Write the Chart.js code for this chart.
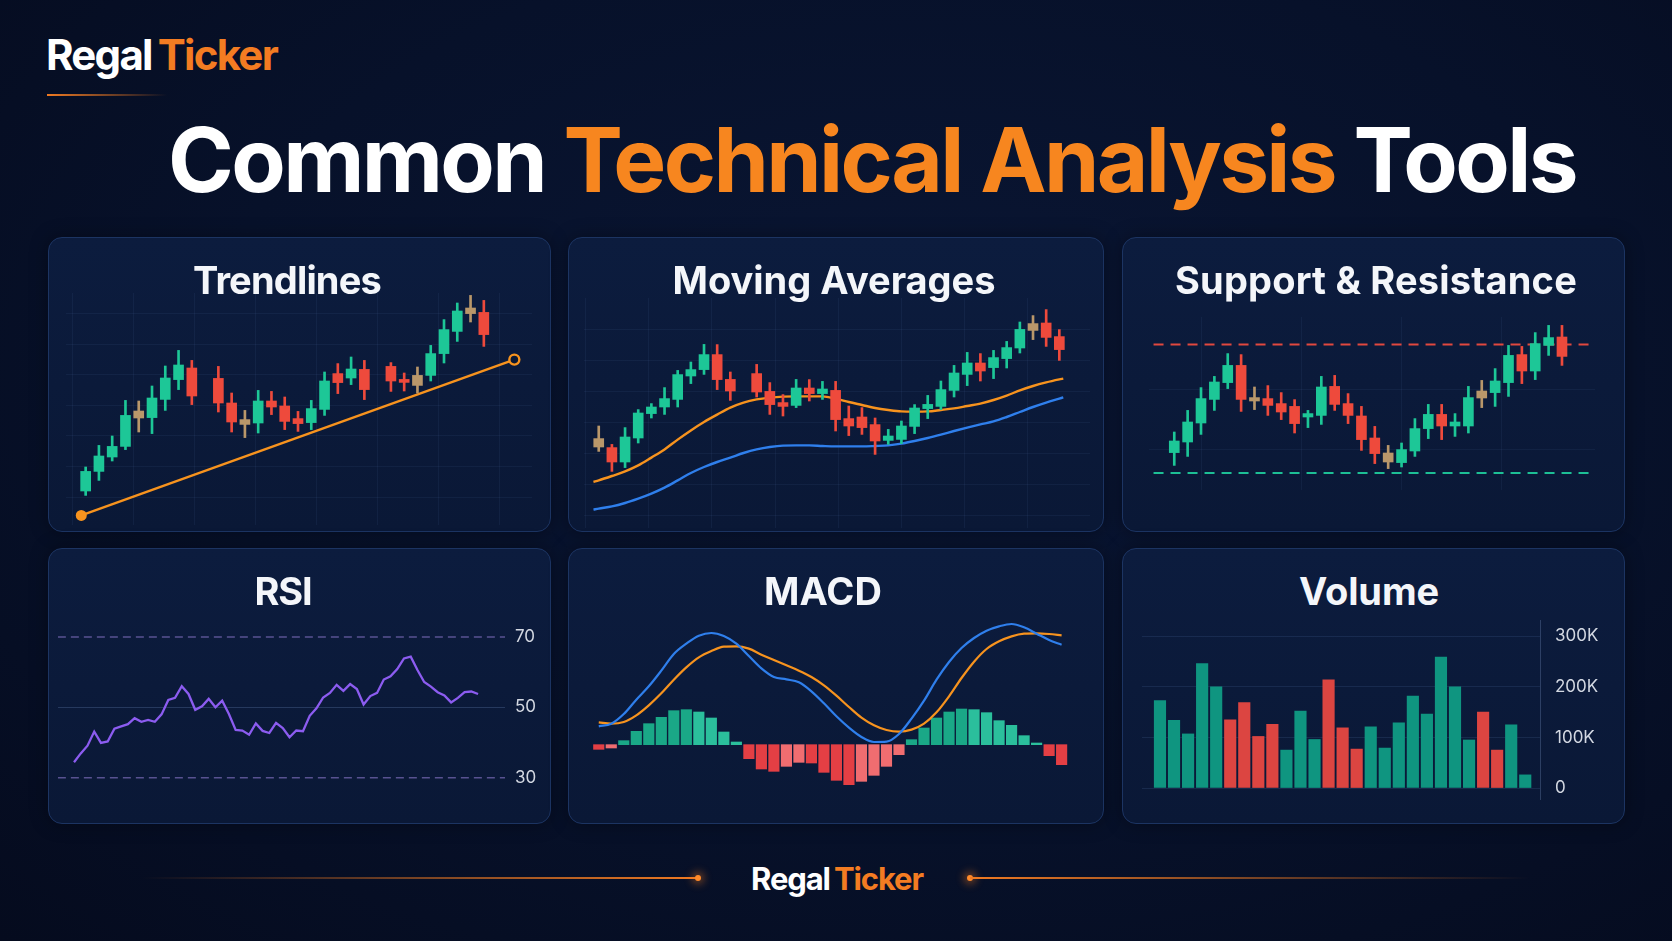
<!DOCTYPE html>
<html>
<head>
<meta charset="utf-8">
<title>Common Technical Analysis Tools</title>
<script src="https://cdn.jsdelivr.net/npm/chart.js@4.4.1/dist/chart.umd.min.js"></script>
<style>
  html, body { margin: 0; padding: 0; }
  body {
    width: 1672px; height: 941px; overflow: hidden; position: relative;
    background: radial-gradient(ellipse at 55% 40%, #0a1634 0%, #07112a 55%, #050b1e 100%);
    font-family: Inter, "Noto Sans", sans-serif; color: #fff;
  }
  .logo { position: absolute; left: 46px; top: 34px; font-size: 42px; font-weight: 700; line-height: 1; white-space: nowrap; }
  .logo .t, .foot .t { color: #f37c22; }
  .logo .t { margin-left: 6px; }
  .logo-rule { position: absolute; left: 47px; top: 94px; width: 120px; height: 2px;
    background: linear-gradient(90deg, #f07a22, rgba(240,122,34,0)); }
  .title { position: absolute; left: 168px; top: 115px; font-size: 89px; font-weight: 700; line-height: 1; white-space: nowrap; }
  .title .o { color: #f7861f; }
  .panel { position: absolute; border-radius: 14px; border: 1px solid #1c3462;
    background: linear-gradient(180deg, #0c1c3e 0%, #0a1836 100%);
    box-shadow: 0 0 18px rgba(0,0,0,0.35); }
  .ptitle { position: absolute; font-size: 38px; font-weight: 700; line-height: 1; white-space: nowrap;
    transform: translateX(-50%); color: #f4f6fa; }
  canvas { position: absolute; }
  .foot { position: absolute; left: 751px; top: 863px; font-size: 31px; font-weight: 700; line-height: 1; white-space: nowrap; }
  .foot .t { margin-left: 4px; }
  .fline { position: absolute; top: 877px; height: 2px; }
  .fdot { position: absolute; top: 875px; width: 6px; height: 6px; border-radius: 3px; background: #ff8a2a;
    box-shadow: 0 0 8px 3px rgba(255,128,30,0.45); }
</style>
</head>
<body>
<div class="logo" id="logo">Regal<span class="t">Ticker</span></div>
<div class="logo-rule"></div>
<div class="title" id="mainTitle">Common <span class="o">Technical Analysis</span> Tools</div>

<div class="panel" style="left:48px;top:237px;width:501px;height:293px"></div>
<div class="panel" style="left:568px;top:237px;width:534px;height:293px"></div>
<div class="panel" style="left:1122px;top:237px;width:501px;height:293px"></div>
<div class="panel" style="left:48px;top:548px;width:501px;height:274px"></div>
<div class="panel" style="left:568px;top:548px;width:534px;height:274px"></div>
<div class="panel" style="left:1122px;top:548px;width:501px;height:274px"></div>

<canvas id="trendChart" width="466" height="232" style="left:66px;top:293px"></canvas>
<canvas id="maChart" width="506" height="230" style="left:584px;top:298px"></canvas>
<canvas id="srChart" width="446" height="173" style="left:1149px;top:317px"></canvas>
<canvas id="rsiChart" width="487" height="200" style="left:58px;top:608px"></canvas>
<canvas id="macdChart" width="484" height="190" style="left:588px;top:610px"></canvas>
<canvas id="volChart" width="468" height="180" style="left:1142px;top:620px"></canvas>

<div class="ptitle" data-w="188" style="left:287px;top:261px">Trendlines</div>
<div class="ptitle" data-w="323" style="left:834px;top:261px">Moving Averages</div>
<div class="ptitle" data-w="402" style="left:1376px;top:261px">Support &amp; Resistance</div>
<div class="ptitle" data-w="57" style="left:283px;top:572px">RSI</div>
<div class="ptitle" data-w="118" style="left:823px;top:572px">MACD</div>
<div class="ptitle" data-w="140" style="left:1369px;top:572px">Volume</div>

<div class="fline" style="left:142px;width:556px;background:linear-gradient(90deg, rgba(240,122,34,0), #f07a22)"></div>
<div class="fdot" style="left:695px"></div>
<div class="fdot" style="left:967px"></div>
<div class="fline" style="left:970px;width:560px;background:linear-gradient(90deg, #f07a22, rgba(240,122,34,0))"></div>
<div class="foot" id="foot">Regal<span class="t">Ticker</span></div>

<script>
// ---- Trendlines candles (null = gap) ----
const trendOpen  = [117,126.8,134,139.3,153.5,153.7,162.8,172.7,178.5,null,173.3,161,152.7,151,162,159.5,153.2,151.2,157.8,175.7,173.5,177.8,null,179.3,172.7,169.8,174.8,185.7,196.8,205.7,206.3];
const trendHigh  = [129,139.8,144.5,162.3,162,169.5,179.5,187.3,182.3,null,179.3,166,157.3,167.3,166.8,164,156.8,162.3,176.5,180.7,184,182.3,null,181.2,176,179,189.8,202.7,211,214.8,212.3];
const trendLow   = [114.8,122.3,132,137.7,146.5,145.7,157.3,167.7,160.2,null,156.5,146.5,143.7,146,155.2,147.7,146.8,147.7,154.8,165.7,170.2,162.7,null,166.8,167,166,172,181,191.8,201.5,189.3];
const trendClose = [126.8,134.5,139.3,154.8,157,163.5,173.5,180,164.5,null,161,151.5,150.3,162,159,151.8,150.7,158.2,172,171.2,178,167.7,null,172,171.3,174.8,185.7,197.7,207,208.5,195.2];
const trendDoji  = [4, 12, 25, 29];
const trendLineX = [-0.33, 32.3];
const trendLineY = [104.8, 182.7];

// ---- Moving averages ----
const maOpen  = [99.2,94.7,87.5,99.5,111.7,115,118.8,130.5,133.7,141.2,128.8,null,131.7,122.8,117.2,115.8,124.5,121.7,123.3,109.2,110,106.2,98.3,98.8,105.3,114.2,115.3,123.3,131.3,137,134.7,139.2,144.5,153.3,157,150.2];
const maHigh  = [105.5,96.3,104.7,113.7,116.7,124.7,133.3,137.5,146.3,146.2,132.5,null,136.3,127.2,121.2,128.8,128.7,127.8,127.8,115.5,114.7,109.5,103.8,108,116.2,120.8,128,135.8,142.3,141.7,143.3,147.8,157.5,160.7,163.7,153.7];
const maLow   = [92.8,82.8,84.7,97,109.5,111.3,115,126.7,131.3,123.7,118.3,null,120,111.3,110.5,114.7,118,118.8,103,100.7,101.3,91.3,96.3,96.7,101.7,109.2,113.7,120,125.7,128,129.2,134.5,142,148.7,145.3,138.3];
const maClose = [95,87.5,100,112,115,119.2,131.2,133.7,141.2,128.7,123,null,122.5,116.2,115.3,124.5,121.7,124,108.7,105.5,104.7,98,100.5,105.5,114.5,116.3,123.7,132,137,133,139.7,144.7,153.8,156.7,149.8,143.7];
const maDoji  = [0, 33];
const maSlots = [-0.4,0,1,2,3,4,5,6,7,8,9,10,11,12,13,14,15,16,17,18,19,20,21,22,23,24,25,26,27,28,29,30,31,32,33,34,35,35.3];
const maFast  = [77.5,78.3,80.5,82.8,85.8,89.7,93.8,98.7,103.3,107.5,111.2,114.7,117.2,118.8,119.7,120.2,120.3,120.3,120.3,119.2,117.5,116,114.5,113.5,112.8,112.7,112.8,113.5,114.3,115.5,116.7,118.5,120.7,123.3,125.5,127.3,128.8,129.2];
const maSlow  = [63.7,64.2,65.3,67,69.2,71.7,74.7,78.3,82,85,87.5,89.7,92,93.8,95,95.7,95.8,95.8,95.5,95.3,95.3,95.3,95.5,95.8,96.7,98,99.5,101.2,103,104.7,106.3,107.8,110,112.5,115,117.2,119.2,119.8];

// ---- Support & resistance ----
const srOpen  = [136.2,141.5,151,162.8,171.2,179.8,163.7,163.2,160.7,159.3,154,154.8,169.3,160.7,154.5,143.5,131.5,131.2,137,148.2,155.3,149.5,149.5,163.5,166.2,171.2,185.2,177,189.8,194];
const srHigh  = [146.5,157.3,168.7,174.3,185.7,185.2,169,169.7,166.2,162.7,157.3,174.3,174.8,165.7,159.3,149.3,139.8,141,153.2,160.3,160.3,155.7,169.3,172.3,178.2,189.8,189.3,196.2,199.8,199.8];
const srLow   = [129.8,134.3,145.3,157.3,168.2,156.8,157.7,154.8,152.7,146,148.7,150.3,157.3,150.7,137.3,130.7,128.2,129,134.3,143.2,142.7,144.3,146,158.7,159.3,164.3,170.7,172.7,184.8,179.8];
const srClose = [142,151.5,163.2,171.5,179.8,162.8,162,159.8,156.5,150.7,155.7,169,160.3,154.8,142.7,135.7,136,137.7,148.2,155.3,149.5,151.5,163.7,167,172,184.8,177,190.7,193.7,184.3];
const srDoji  = [6, 16, 23];
const srResistance = 190.3;
const srSupport = 126;
const srLevelX = [-1.55, 31.1];

// ---- RSI ----
const rsiValues = [34.4,36.9,39.1,43.1,39.9,40.3,43.9,44.6,45.2,46.9,45.9,46.4,45.9,48.0,52.1,52.7,56.0,53.8,49.3,50.3,52.4,50.0,51.9,48.1,43.6,43.4,42.2,45.4,43.3,42.7,45.6,44.1,41.5,43.4,43.2,47.6,49.7,52.8,54.1,56.4,54.7,56.6,55.2,50.8,53.2,54.1,57.9,58.8,60.9,63.9,64.4,60.6,57.2,55.9,54.3,53.4,51.4,52.7,54.3,54.5,53.8];
const rsiTicks = [30, 50, 70];

// ---- MACD ----
const macdLine   = [0.55,0.63,0.92,1.35,1.75,2.22,2.72,3.03,3.27,3.35,3.26,3.03,2.66,2.29,2.03,1.96,1.87,1.60,1.24,0.85,0.51,0.23,0.08,0.09,0.32,0.78,1.32,1.95,2.48,2.90,3.20,3.42,3.55,3.62,3.52,3.33,3.14,3.00];
const signalLine = [0.67,0.63,0.68,0.88,1.18,1.54,1.95,2.32,2.62,2.81,2.94,2.95,2.88,2.70,2.54,2.38,2.22,2.03,1.78,1.47,1.13,0.81,0.58,0.44,0.39,0.45,0.63,0.97,1.45,2.00,2.49,2.87,3.10,3.25,3.33,3.34,3.32,3.28];
const macdHist   = [-0.14,-0.10,0.12,0.40,0.63,0.82,1.02,1.05,0.98,0.80,0.38,0.08,-0.42,-0.73,-0.80,-0.65,-0.53,-0.55,-0.83,-1.07,-1.20,-1.10,-0.92,-0.65,-0.30,0.15,0.50,0.80,0.98,1.07,1.05,0.96,0.72,0.58,0.27,0.05,-0.33,-0.60];

// ---- Volume (thousands) ----
const volumeK  = [173,134,107,246,200,135,169,102,126,75,152,96,214,119,77,121,79,129,182,146,259,200,95,150,75,125,26];
const volumeUp = [1,1,1,1,1,0,0,0,0,1,1,1,0,0,0,1,1,1,1,1,1,1,1,0,0,1,1];
const volumeTicks = [0, 100, 200, 300];

// ---- styling ----
const GREEN = '#1dc797', RED = '#ee4a3c', DOJI = '#b9976a';
const ORANGE = '#f7931e', BLUE = '#2f7fec', GRID = 'rgba(80,110,160,0.11)';

Chart.defaults.animation = false;
Chart.defaults.events = [];
Chart.defaults.font.family = 'Inter, "Noto Sans", sans-serif';
Chart.defaults.plugins.legend.display = false;
Chart.defaults.plugins.tooltip.enabled = false;

function steps(start, step, count) {
    return Array.from({ length: count }, (_, i) => start + i * step);
}

function axis(min, max, gridValues, extra) {
    return Object.assign({
        type: 'linear', min, max, offset: false,
        ticks: { display: false },
        grid: { display: !!gridValues, drawTicks: false, color: GRID, offset: false },
        border: { display: false },
        afterBuildTicks: gridValues ? (s => { s.ticks = gridValues.map(v => ({ value: v })); }) : undefined
    }, extra || {});
}

// right-hand value axis whose labels must not shrink the plot area
function labelAxis(min, max, ticks, width, extra) {
    return Object.assign({
        type: 'linear', position: 'right', min, max,
        afterBuildTicks: s => { s.ticks = ticks.map(v => ({ value: v })); },
        afterFit: s => { s.width = width; s.paddingTop = 0; s.paddingBottom = 0; },
        border: { display: false }
    }, extra);
}

function candleSets(open, high, low, close, doji) {
    const wicks = [], bodies = [], colors = [];
    open.forEach((o, i) => {
        if (o === null) return;
        colors.push(doji.includes(i) ? DOJI : (close[i] >= o ? GREEN : RED));
        wicks.push({ x: i, y: [low[i], high[i]] });
        bodies.push({ x: i, y: [o, close[i]] });
    });
    return [
        { type: 'bar', data: bodies, backgroundColor: colors, barThickness: 10, grouped: false, minBarLength: 3, order: 0 },
        { type: 'bar', data: wicks, backgroundColor: colors, barThickness: 2, grouped: false, order: 0 }
    ];
}

function makeChart(id, datasets, scales) {
    return new Chart(document.getElementById(id), {
        type: 'bar',
        data: { datasets },
        options: {
            responsive: false,
            maintainAspectRatio: false,
            layout: { autoPadding: false, padding: 0 },
            scales
        }
    });
}

// Trendlines
makeChart('trendChart', [
    ...candleSets(trendOpen, trendHigh, trendLow, trendClose, trendDoji),
    {
        type: 'line', order: 2,
        data: trendLineX.map((x, i) => ({ x, y: trendLineY[i] })),
        borderColor: ORANGE, borderWidth: 2.4,
        pointRadius: [5.5, 5], pointBorderWidth: [0, 2.4],
        pointBackgroundColor: [ORANGE, '#0b1934'], pointBorderColor: ORANGE
    }
], {
    x: axis(-1.48, 33.63, steps(-1, 4.6, 8)),
    y: axis(100, 216, steps(114, 15.3, 7))
});

// Moving averages
makeChart('maChart', [
    ...candleSets(maOpen, maHigh, maLow, maClose, maDoji),
    { type: 'line', order: 2, data: maFast.map((y, i) => ({ x: maSlots[i], y })), borderColor: ORANGE, borderWidth: 2.4, pointRadius: 0, tension: 0.4, cubicInterpolationMode: 'monotone' },
    { type: 'line', order: 2, data: maSlow.map((y, i) => ({ x: maSlots[i], y })), borderColor: BLUE, borderWidth: 2.4, pointRadius: 0, tension: 0.4, cubicInterpolationMode: 'monotone' }
], {
    x: axis(-1.12, 37.33, steps(-1, 4.8, 8)),
    y: axis(54.5, 169.5, steps(61, 15.5, 7))
});

// Support & resistance
makeChart('srChart', [
    ...candleSets(srOpen, srHigh, srLow, srClose, srDoji),
    { type: 'line', order: 2, data: srLevelX.map(x => ({ x, y: srResistance })), borderColor: '#e2483f', borderWidth: 2, borderDash: [10, 7], pointRadius: 0 },
    { type: 'line', order: 2, data: srLevelX.map(x => ({ x, y: srSupport })), borderColor: '#1dbf95', borderWidth: 2, borderDash: [10, 7], pointRadius: 0 }
], {
    x: axis(-1.89, 31.47, steps(2, 7.5, 4)),
    y: axis(117.5, 204, steps(138, 30, 2))
});

// RSI
makeChart('rsiChart', [
    { type: 'line', data: rsiValues.map((y, x) => ({ x, y })), borderColor: '#8c5cf0', borderWidth: 2.3, pointRadius: 0, tension: 0 },
    { type: 'line', data: [-2.4, 64].map(x => ({ x, y: rsiTicks[2] })), borderColor: 'rgba(140,120,205,0.6)', borderWidth: 1.5, borderDash: [8, 5], pointRadius: 0 },
    { type: 'line', data: [-2.4, 64].map(x => ({ x, y: rsiTicks[0] })), borderColor: 'rgba(140,120,205,0.6)', borderWidth: 1.5, borderDash: [8, 5], pointRadius: 0 }
], {
    x: axis(-2.38, 64.0),
    y: labelAxis(21.37, 78.25, rsiTicks, 40, {
        ticks: { color: '#d3d8e2', font: { size: 17 }, padding: 10 },
        grid: { drawTicks: false, color: c => c.tick && c.tick.value === 50 ? 'rgba(70,95,140,0.45)' : 'transparent' }
    })
});

// MACD
const histColors = macdHist.map((v, i) => {
    const prev = i > 0 ? macdHist[i - 1] : v;
    if (v >= 0) return v >= prev ? '#1aa887' : '#2bbf9c';
    return v <= prev ? '#e43f44' : '#f06d70';
});
makeChart('macdChart', [
    { type: 'line', order: 0, data: macdLine.map((y, x) => ({ x, y })), borderColor: BLUE, borderWidth: 2.2, pointRadius: 0, tension: 0.4, cubicInterpolationMode: 'monotone' },
    { type: 'line', order: 0, data: signalLine.map((y, x) => ({ x, y })), borderColor: ORANGE, borderWidth: 2.2, pointRadius: 0, tension: 0.4, cubicInterpolationMode: 'monotone' },
    { type: 'bar', order: 1, data: macdHist.map((y, x) => ({ x, y })), backgroundColor: histColors, barThickness: 10.5, grouped: false }
], {
    x: axis(-0.86, 37.83),
    y: axis(-1.66, 4.04)
});

// Volume
makeChart('volChart', [
    { type: 'bar', data: volumeK.map((y, x) => ({ x, y })), backgroundColor: volumeUp.map(u => u ? '#0f9580' : '#dc4541'), barThickness: 11.5, grouped: false }
], {
    x: axis(-1.28, 27.05),
    y: labelAxis(-23.7, 332.3, volumeTicks, 70, {
        ticks: { color: '#d3d8e2', font: { size: 17 }, padding: 15, callback: v => v === 0 ? '0' : v + 'K' },
        grid: { drawTicks: false, color: 'rgba(80,110,160,0.2)' },
        border: { display: true, color: 'rgba(110,135,180,0.35)' }
    })
});

// fit headings to the reference widths via letter spacing
function fitWidth(el, target) {
    const w = el.getBoundingClientRect().width;
    const n = el.textContent.length;
    el.style.letterSpacing = ((target - w) / n) + 'px';
}
fitWidth(document.getElementById('mainTitle'), 1408);
fitWidth(document.getElementById('logo'), 231);
fitWidth(document.getElementById('foot'), 172);
document.querySelectorAll('.ptitle').forEach(el => fitWidth(el, +el.dataset.w));
</script>
</body>
</html>
